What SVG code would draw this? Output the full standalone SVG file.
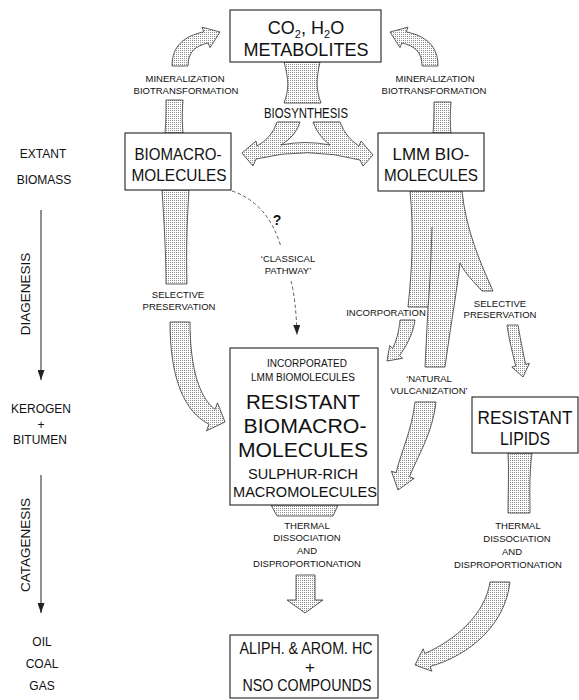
<svg xmlns="http://www.w3.org/2000/svg" width="579" height="700" viewBox="0 0 579 700">
<defs>
<pattern id="dots" width="2" height="2" patternUnits="userSpaceOnUse"><rect width="2" height="2" fill="#fff"/><rect width="1" height="1" fill="#8c8c8c"/></pattern>
<marker id="tri" markerUnits="userSpaceOnUse" markerWidth="11" markerHeight="7" refX="10" refY="3.5" orient="auto"><path d="M0,0 L10,3.5 L0,7 Z" fill="#222"/></marker>
<marker id="tri2" markerUnits="userSpaceOnUse" markerWidth="11" markerHeight="7" refX="10" refY="3.5" orient="auto"><path d="M0,0 L10,3.5 L0,7 Z" fill="#222"/></marker>
</defs>
<style>
.box{fill:#fff;stroke:#222;stroke-width:1.1}
.st{fill:url(#dots);stroke:#333;stroke-width:0.8;stroke-linejoin:miter}
.ln{fill:none;stroke:#222;stroke-width:1}
.split{fill:none;stroke:#333;stroke-width:0.8}
.dash{fill:none;stroke:#333;stroke-width:0.8;stroke-dasharray:3.5 2.5}
text{font-family:"Liberation Sans",Arial,Helvetica,sans-serif;fill:#111;text-anchor:middle}
.s{font-size:9.5px}
.m{font-size:12px}
.r{font-size:13.5px}
.b15{font-size:14.5px}
.b17{font-size:17px}
.b18{font-size:18px}
.b21{font-size:20.5px}
</style>
<rect width="579" height="700" fill="#fff"/>

<g id="connectors">
  <!-- biosynthesis trunk and double arrow -->
  <path class="st" d="M284,62 L320,62 C316,80 316,90 321,103 L284,103 C289,90 289,80 284,62 Z"/>
  <path class="st" d="M242,153 L256,141 L257,146 Q272,138 277,122 L300,122 Q296,136 281,145 Q305,140 330,145 Q318,136 313,122 L340,122 Q346,138 359,146 L361,141 L373,155 L363,166 L360,160 Q308,146 256,159 L253,166 Z"/>
  <!-- mineralization arrows -->
  <path class="st" d="M172,66 C172,45 185,36 203.8,31.8 L202,27.2 L220,32 L210,47.6 L208.2,43 C195,46 188,52 188,66 Z"/>
  <path class="st" d="M166,100 L183,100 C182,112 182,122 183,133 L165,133 C166,122 166,112 166,100 Z"/>
  <path class="st" transform="translate(610,0) scale(-1,1)" d="M172,66 C172,45 185,36 203.8,31.8 L202,27.2 L220,32 L210,47.6 L208.2,43 C195,46 188,52 188,66 Z"/>
  <path class="st" d="M434,102 L451,102 C450,115 450,125 451,133 L433,133 C434,122 434,112 434,102 Z"/>
  <!-- left selective preservation -->
  <path class="st" d="M162,190 L189,190 C187,220 186,255 187,284 L166,284 C166,255 164,220 162,190 Z"/>
  <path class="st" d="M170,322 C170,380 185,412 209,424.2 L206.5,430.8 L225,422 L217.5,402.8 L215,409.4 C200,398 190,370 190,322 Z"/>
  <!-- classical pathway -->
  <path class="dash" d="M232,191 Q268,203 281,247"/>
  <path class="dash" d="M291,281 Q296,300 297,335" marker-end="url(#tri2)"/>
  <!-- LMM tree -->
  <path class="st" d="M410,191 C414,230 412,270 408,307 L428,307 L425,367 L445,367 C450,330 457,290 460,263 C466,275 475,283 482,291 L493,291 C480,262 466,230 462,191 Z"/>
  <path class="split" d="M432,227 C431,258 430,285 428,307"/>
  <!-- incorporation -->
  <path class="st" d="M400,320 C399,332 396,342 392.6,348.4 L389.7,345.5 L387,361 L402.5,358.3 L399.6,355.4 C405,348 413,335 415,320 Z"/>
  <!-- natural vulcanization -->
  <path class="st" d="M415,402 C412,430 401,452 396.1,472.7 L391.4,471.2 L398,490 L414.2,478.4 L409.5,476.9 C418,455 432,435 436,402 Z"/>
  <!-- selective preservation to lipids -->
  <path class="st" d="M507,325 C510,345 514,358 515.7,366.2 L511.8,367 L523,377 L529.4,363.4 L525.5,364.2 C524,356 521,343 518,325 Z"/>
  <!-- thermal -->
  <path class="st" d="M271,505 L338,505 L333,516 L277,516 Z"/>
  <path class="st" d="M296,575 L315,575 L315,600 L323,600 L305,613 L287,600 L296,600 Z"/>
  <path class="st" d="M508,453 L532,453 C529,475 530,495 530,513 L508,513 C508,495 509,475 508,453 Z"/>
  <path class="st" d="M490,582 C485,615 455,640 424.9,653.5 L423.1,648.8 L415,665 L431.9,671.2 L430.1,666.5 C470,655 505,625 510,582 Z"/>
  <!-- stage arrows -->
  <line class="ln" x1="41" y1="210" x2="41" y2="380" marker-end="url(#tri)"/>
  <line class="ln" x1="41" y1="475" x2="41" y2="613" marker-end="url(#tri)"/>
</g>

<g id="edge-labels">
  <text class="s" x="185" y="82">MINERALIZATION</text>
  <text class="s" x="186" y="94">BIOTRANSFORMATION</text>
  <text class="s" x="435" y="82">MINERALIZATION</text>
  <text class="s" x="434" y="94">BIOTRANSFORMATION</text>
  <text x="306" y="118" font-size="14" textLength="84" lengthAdjust="spacingAndGlyphs">BIOSYNTHESIS</text>
  <text class="s" x="178" y="298">SELECTIVE</text>
  <text class="s" x="179" y="310">PRESERVATION</text>
  <text x="277" y="225" font-size="14" font-weight="bold">?</text>
  <text class="s" x="288" y="262">‘CLASSICAL</text>
  <text class="s" x="288" y="274">PATHWAY’</text>
  <text class="s" x="386" y="316">INCORPORATION</text>
  <text class="s" x="429" y="382">‘NATURAL</text>
  <text class="s" x="429" y="394">VULCANIZATION’</text>
  <text class="s" x="500" y="307">SELECTIVE</text>
  <text class="s" x="500" y="318">PRESERVATION</text>
  <text class="s" x="307" y="529">THERMAL</text>
  <text class="s" x="307" y="541">DISSOCIATION</text>
  <text class="s" x="307" y="554">AND</text>
  <text class="s" x="307" y="567">DISPROPORTIONATION</text>
  <text class="s" x="518" y="529">THERMAL</text>
  <text class="s" x="517" y="542">DISSOCIATION</text>
  <text class="s" x="512" y="555">AND</text>
  <text class="s" x="508" y="568">DISPROPORTIONATION</text>
</g>

<g id="stages">
  <text class="m" x="43" y="158">EXTANT</text>
  <text class="m" x="44" y="184">BIOMASS</text>
  <text class="r" transform="translate(30,294) rotate(-90)">DIAGENESIS</text>
  <text class="m" x="41" y="413">KEROGEN</text>
  <text class="m" x="41" y="429">+</text>
  <text class="m" x="40" y="444">BITUMEN</text>
  <text class="r" transform="translate(30,545) rotate(-90)">CATAGENESIS</text>
  <text class="m" x="42" y="646">OIL</text>
  <text class="m" x="42" y="668">COAL</text>
  <text class="m" x="42" y="690">GAS</text>
</g>

<g id="node-metabolites">
  <rect class="box" x="230" y="10" width="151" height="52"/>
  <text class="b18" x="306" y="34">CO<tspan font-size="11" dy="4">2</tspan><tspan dy="-4">, H</tspan><tspan font-size="11" dy="4">2</tspan><tspan dy="-4">O</tspan></text>
  <text class="b18" x="306" y="56" textLength="125" lengthAdjust="spacingAndGlyphs">METABOLITES</text>
</g>

<g id="node-biomacromolecules">
  <rect class="box" x="125" y="133" width="106" height="57"/>
  <text class="b17" x="178" y="160" textLength="87" lengthAdjust="spacingAndGlyphs">BIOMACRO-</text>
  <text class="b17" x="179" y="181" textLength="95" lengthAdjust="spacingAndGlyphs">MOLECULES</text>
</g>

<g id="node-lmm">
  <rect class="box" x="378" y="133" width="106" height="58"/>
  <text class="b17" x="431" y="160" textLength="77" lengthAdjust="spacingAndGlyphs">LMM BIO-</text>
  <text class="b17" x="431" y="181" textLength="94" lengthAdjust="spacingAndGlyphs">MOLECULES</text>
</g>

<g id="node-resistant">
  <rect class="box" x="230" y="348" width="148" height="157"/>
  <text x="307" y="367" font-size="10">INCORPORATED</text>
  <text x="303" y="381" font-size="10">LMM BIOMOLECULES</text>
  <text class="b21" x="303" y="409" textLength="114" lengthAdjust="spacingAndGlyphs">RESISTANT</text>
  <text class="b21" x="305" y="433" textLength="123" lengthAdjust="spacingAndGlyphs">BIOMACRO-</text>
  <text class="b21" x="303" y="457" textLength="130" lengthAdjust="spacingAndGlyphs">MOLECULES</text>
  <text class="b15" x="303" y="479" textLength="110" lengthAdjust="spacingAndGlyphs">SULPHUR-RICH</text>
  <text class="b15" x="305" y="497" textLength="144" lengthAdjust="spacingAndGlyphs">MACROMOLECULES</text>
</g>

<g id="node-lipids">
  <rect class="box" x="472" y="397" width="106" height="56"/>
  <text class="b18" x="525" y="424" textLength="95" lengthAdjust="spacingAndGlyphs">RESISTANT</text>
  <text class="b18" x="525" y="445" textLength="50" lengthAdjust="spacingAndGlyphs">LIPIDS</text>
</g>

<g id="node-products">
  <rect class="box" x="230" y="635" width="148" height="63"/>
  <text class="b17" x="306" y="654" textLength="133" lengthAdjust="spacingAndGlyphs">ALIPH. &amp; AROM. HC</text>
  <text class="b17" x="310" y="673">+</text>
  <text class="b17" x="307" y="691" textLength="129" lengthAdjust="spacingAndGlyphs">NSO COMPOUNDS</text>
</g>
</svg>
